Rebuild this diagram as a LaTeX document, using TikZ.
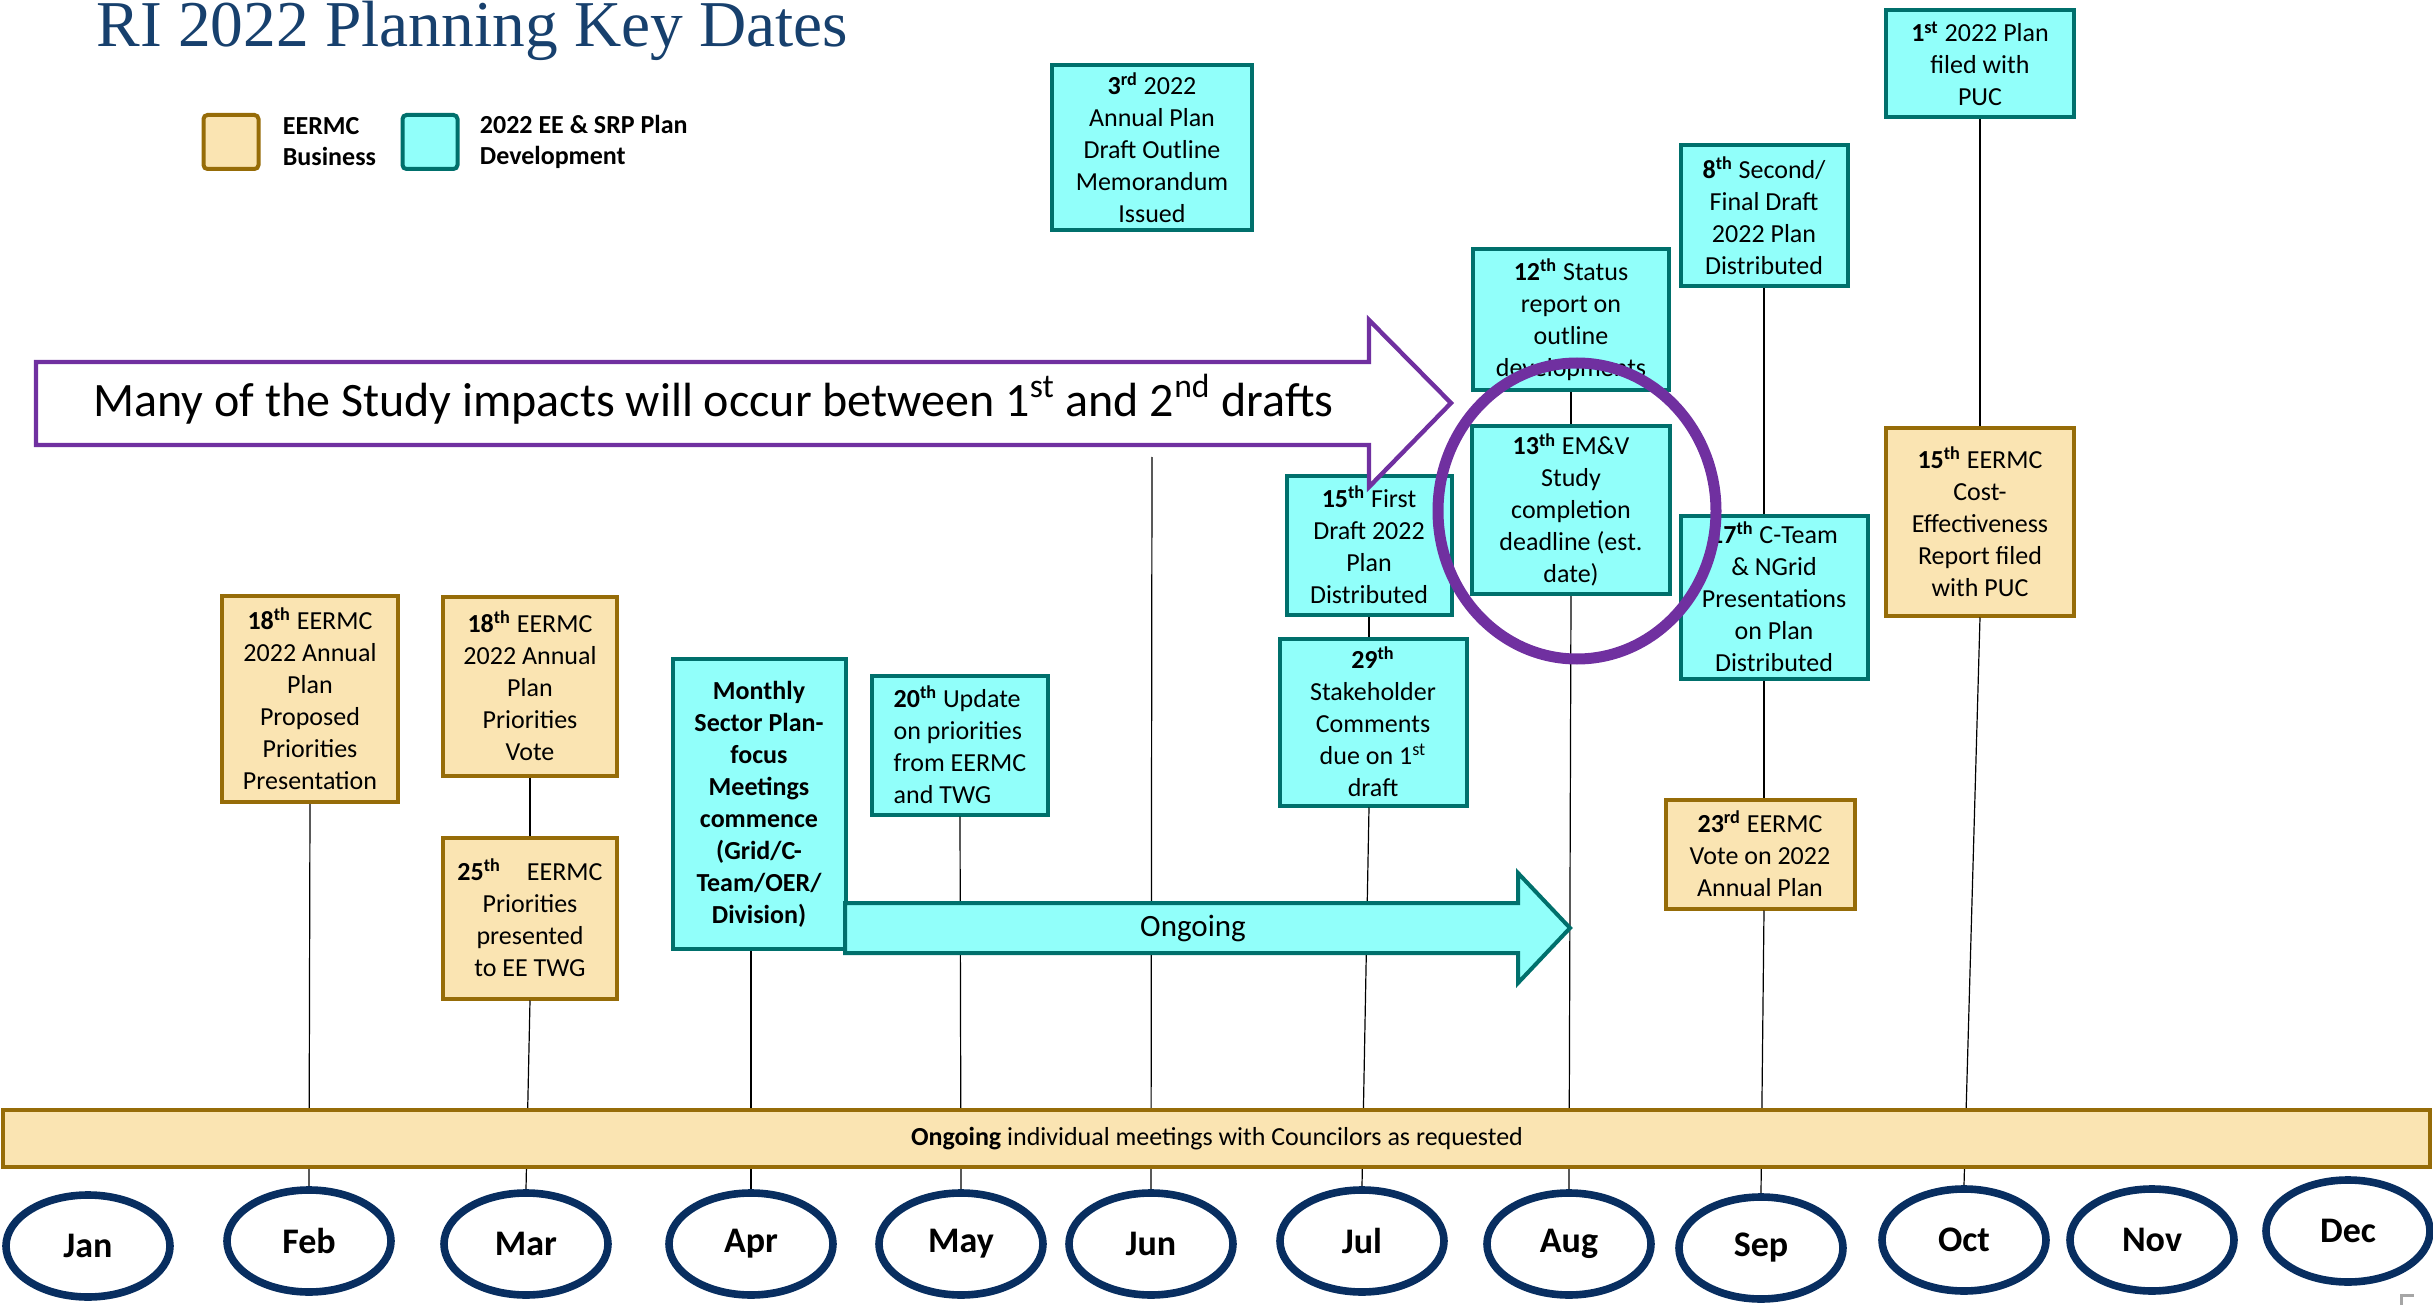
\documentclass[tikz,border=0pt]{standalone}
\usepackage{fontspec}
\setmainfont{Carlito}
\newfontfamily\titlefont{Liberation Serif}
\usepackage{xcolor}
\definecolor{tanfill}{RGB}{250,228,178}
\definecolor{tanedge}{RGB}{150,108,8}
\definecolor{cyanfill}{RGB}{145,255,250}
\definecolor{cyanedge}{RGB}{0,112,108}
\definecolor{monthblue}{RGB}{8,46,96}
\definecolor{arrowpurple}{RGB}{112,48,160}
\definecolor{titleblue}{RGB}{23,64,109}
\usetikzlibrary{shapes.geometric, positioning}

\begin{document}
\begin{tikzpicture}[
                x=0.5pt, y=-0.5pt,
                eventbox/.style={draw, line width=2pt, align=center, inner sep=2pt, font=\fontsize{13}{16}\selectfont},
                tanbox/.style={eventbox, fill=tanfill, draw=tanedge},
                cyanbox/.style={eventbox, fill=cyanfill, draw=cyanedge},
                monthnode/.style={shape=ellipse, draw=monthblue, fill=white, line width=3.8pt, minimum width=82pt, minimum height=51pt, inner sep=0pt, font=\fontsize{18}{20}\selectfont\bfseries},
                legendtext/.style={align=left, inner sep=0pt, font=\fontsize{13}{15.5}\selectfont\bfseries},
                timeline/.style={black, line width=0.6pt}
            ]
                \useasboundingbox (0,0) rectangle (2433,1305);

                % Title and legend
                \node[anchor=base west, inner sep=0pt, text=titleblue, font=\titlefont\fontsize{32.7}{38}\selectfont] (title) at (96,47) {RI 2022 Planning Key Dates};
                \node[tanbox, rounded corners=2pt, minimum width=27.5pt, minimum height=27pt] (legtan) at (231,142) {};
                \node[legendtext, right=11pt of legtan] (legtantext) {EERMC\\Business};
                \node[cyanbox, rounded corners=2pt, minimum width=27.5pt, minimum height=27pt] (legcyan) at (430,142) {};
                \node[legendtext, right=10pt of legcyan] (legcyantext) {2022 EE \& SRP Plan\\Development};

                % Months
                \foreach \mx/\my/\mname/\mid in {
                88/1246/Jan/jan,
                309/1241/Feb/feb,
                526/1244/Mar/mar,
                751/1244/Apr/apr,
                961/1244/May/may,
                1151/1244/Jun/jun,
                1362/1241/Jul/jul,
                1569/1244/Aug/aug,
                1761/1248/Sep/sep,
                1964/1240/Oct/oct,
                2152/1240/Nov/nov,
                2348/1231/Dec/dec} {
                \node[monthnode] (\mid) at (\mx,\my) {\mname};
            }

            % Key dates
            \node[tanbox, minimum width=88pt, minimum height=103pt] (feb1) at (310,699) {\textbf{18\textsuperscript{th}} EERMC\\2022 Annual\\Plan\\Proposed\\Priorities\\Presentation};
            \node[tanbox, minimum width=87pt, minimum height=89.5pt] (mar1) at (530,686) {\textbf{18\textsuperscript{th}} EERMC\\2022 Annual\\Plan\\Priorities\\Vote};
            \node[tanbox, minimum width=87pt, minimum height=80.5pt] (mar2) at (530,918) {\textbf{25\textsuperscript{th}}\quad EERMC\\Priorities\\presented\\to EE TWG};
            \node[cyanbox, minimum width=86.5pt, minimum height=145pt, font=\fontsize{13}{16}\selectfont\bfseries] (apr1) at (759,804) {Monthly\\Sector Plan-\\focus\\Meetings\\commence\\(Grid/C-\\Team/OER/\\Division)};
            \node[cyanbox, align=left, minimum width=88pt, minimum height=69.5pt] (may1) at (960,745) {\textbf{20\textsuperscript{th}} Update\\on priorities\\from EERMC\\and TWG};
            \node[cyanbox, minimum width=100pt, minimum height=82.5pt] (jun1) at (1152,148) {\textbf{3\textsuperscript{rd}} 2022\\Annual Plan\\Draft Outline\\Memorandum\\Issued};
            \node[cyanbox, minimum width=82.5pt, minimum height=69.5pt] (jul1) at (1369,545) {\textbf{15\textsuperscript{th}} First\\Draft 2022\\Plan\\Distributed};
            \node[cyanbox, minimum width=93.5pt, minimum height=83.5pt] (jul2) at (1373,722) {\textbf{29\textsuperscript{th}}\\Stakeholder\\Comments\\due on 1\textsuperscript{st}\\draft};
            \node[cyanbox, minimum width=98pt, minimum height=70.5pt] (aug1) at (1571,320) {\textbf{12\textsuperscript{th}} Status\\report on\\outline\\developments};
            \node[cyanbox, minimum width=99pt, minimum height=84pt] (aug2) at (1571,510) {\textbf{13\textsuperscript{th}} EM\&V\\Study\\completion\\deadline (est.\\date)};
            \node[cyanbox, minimum width=83.5pt, minimum height=70.5pt] (sep1) at (1764,216) {\textbf{8\textsuperscript{th}} Second/\\Final Draft\\2022 Plan\\Distributed};
            \node[cyanbox, minimum width=93.5pt, minimum height=81.5pt] (sep2) at (1774,597) {\textbf{17\textsuperscript{th}} C-Team\\\& NGrid\\Presentations\\on Plan\\Distributed};
            \node[tanbox, minimum width=94.5pt, minimum height=54.5pt] (sep3) at (1760,854) {\textbf{23\textsuperscript{rd}} EERMC\\Vote on 2022\\Annual Plan};
            \node[cyanbox, minimum width=94pt, minimum height=53.5pt] (oct1) at (1980,64) {\textbf{1\textsuperscript{st}} 2022 Plan\\filed with\\PUC};
            \node[tanbox, minimum width=94pt, minimum height=93.5pt] (oct2) at (1980,522) {\textbf{15\textsuperscript{th}} EERMC\\Cost-\\Effectiveness\\Report filed\\with PUC};

            % Drop lines to the months
            \coordinate (junstart) at (1152,457);
            \draw[timeline] (feb1.south) -- (feb.north);
            \draw[timeline] (mar1.south) -- (mar2.north);
            \draw[timeline] (mar2.south) -- (mar.north);
            \draw[timeline] (apr1.south -| apr.north) -- (apr.north);
            \draw[timeline] (may1.south) -- (may.north);
            \draw[timeline] (junstart) -- (jun.north);
            \draw[timeline] (jul1.south) -- (jul1.south |- jul2.north);
            \draw[timeline] (jul2.south -| jul1.south) -- (jul.north);
            \draw[timeline] (aug1.south) -- (aug2.north);
            \draw[timeline] (aug2.south) -- (aug.north);
            \draw[timeline] (sep1.south) -- (sep1.south |- sep2.north);
            \draw[timeline] (sep2.south -| sep1.south) -- (sep3.north -| sep1.south);
            \draw[timeline] (sep3.south -| sep1.south) -- (sep.north);
            \draw[timeline] (oct1.south) -- (oct2.north);
            \draw[timeline] (oct2.south) -- (oct.north);

            % Ongoing bar
            \draw[fill=tanfill, draw=tanedge, line width=2pt] (3,1110) rectangle (2430,1167);
            \node[font=\fontsize{13}{15}\selectfont] (ongoingbar) at (1217,1139) {\textbf{Ongoing} individual meetings with Councilors as requested};

            % Ongoing arrow
            \draw[fill=cyanfill, draw=cyanedge, line width=2pt, line join=miter] (845,903) -- (1518,903) -- (1518,873) -- (1570,928) -- (1518,983) -- (1518,953) -- (845,953) -- cycle;
            \node[font=\fontsize{15.5}{18}\selectfont] (ongoingtext) at (1193,928) {Ongoing};

            % Study impacts arrow
            \draw[fill=white, draw=arrowpurple, line width=2.2pt, line join=miter] (36,362) -- (1369,362) -- (1369,320) -- (1451,403) -- (1369,487) -- (1369,445) -- (36,445) -- cycle;
            \node[anchor=base west, inner sep=0pt, font=\fontsize{24}{28}\selectfont] (impacts) at (93,416) {Many of the Study impacts will occur between 1\textsuperscript{st} and 2\textsuperscript{nd} drafts};

            % Highlight ring
            \draw[arrowpurple, line width=5.5pt] (1577,511) ellipse (139 and 148);

            % Corner mark
            \draw[gray!70, line width=1.5pt] (2401,1305) -- (2401,1295) -- (2414,1295);
            \end{tikzpicture}
\end{document}
